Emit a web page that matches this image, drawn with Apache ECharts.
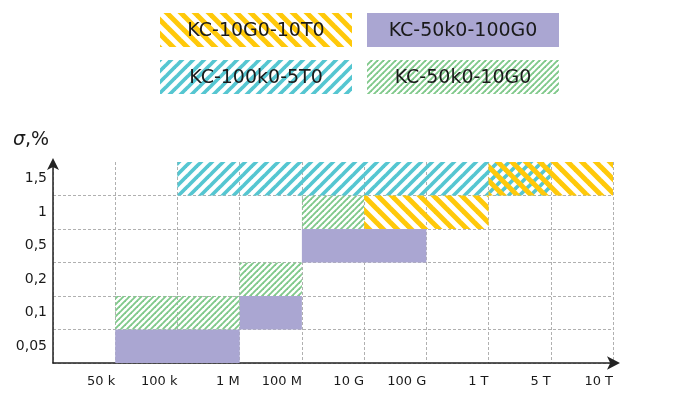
<!DOCTYPE html>
<html>
<head>
<meta charset="utf-8">
<script src="https://cdn.jsdelivr.net/npm/echarts@6/dist/echarts.min.js"></script>
<style>
html,body{margin:0;padding:0;background:#fff;}
#chart{width:687px;height:397px;}
</style>
</head>
<body>
<div id="chart"></div>
<script>
// Boundary labels of the x axis (index 0 is the origin)
const xLabels = ['', '50 k', '100 k', '1 M', '100 M', '10 G', '100 G', '1 T', '5 T', '10 T'];
// Row labels of the y axis (σ, %)
const yLabels = ['0,05', '0,1', '0,2', '0,5', '1', '1,5'];

// Ranges: [from, to, row]
const seriesNames = ['KC-50k0-100G0', 'KC-50k0-10G0', 'KC-100k0-5T0', 'KC-10G0-10T0'];
const purpleRanges = [['50 k', '1 M', '0,05'], ['1 M', '100 M', '0,1'], ['100 M', '100 G', '0,5']];
const greenRanges  = [['50 k', '1 M', '0,1'], ['1 M', '100 M', '0,2'], ['100 M', '10 G', '1']];
const cyanRanges   = [['100 k', '5 T', '1,5']];
const yellowRanges = [['10 G', '1 T', '1'], ['1 T', '10 T', '1,5']];
const legendOrder = ['KC-10G0-10T0', 'KC-50k0-100G0', 'KC-100k0-5T0', 'KC-50k0-10G0'];

function stripes(color, p, w, dir) {
  const c = document.createElement('canvas');
  c.width = p; c.height = p;
  const ctx = c.getContext('2d');
  ctx.strokeStyle = color;
  ctx.lineWidth = w;
  ctx.lineCap = 'square';
  for (let k = -1; k <= 1; k++) {
    const x = k * p;
    ctx.beginPath();
    if (dir === '/') { ctx.moveTo(x - 1, p + 1); ctx.lineTo(x + p + 1, -1); }
    else { ctx.moveTo(x - 1, -1); ctx.lineTo(x + p + 1, p + 1); }
    ctx.stroke();
  }
  return { image: c, repeat: 'repeat' };
}

const fills = {
  'KC-50k0-100G0': '#aaa6d2',
  'KC-50k0-10G0': stripes('#80c98b', 6, 1.9, '/'),
  'KC-100k0-5T0': stripes('#55c6d1', 11, 3.7, '/'),
  'KC-10G0-10T0': stripes('#ffc90a', 14, 5, '\\')
};
const rangesByName = {
  'KC-50k0-100G0': purpleRanges,
  'KC-50k0-10G0': greenRanges,
  'KC-100k0-5T0': cyanRanges,
  'KC-10G0-10T0': yellowRanges
};

function toData(r) {
  return r.map(d => [xLabels.indexOf(d[0]), xLabels.indexOf(d[1]), yLabels.indexOf(d[2])]);
}

const series = seriesNames.map(name => ({
  type: 'custom',
  name: name,
  encode: { x: [0, 1], y: 2 },
  data: toData(rangesByName[name]),
  z: 1,
  renderItem: function (params, api) {
    const y = api.value(2);
    const p0 = api.coord([api.value(0), y]);
    const p1 = api.coord([api.value(1), y]);
    const h = api.size([0, 1])[1];
    return {
      type: 'rect',
      shape: { x: p0[0], y: p0[1] - h / 2, width: p1[0] - p0[0], height: h },
      style: { fill: fills[name] }
    };
  }
}));

const font = 'DejaVu Sans';
const legendGraphics = legendOrder.map((name, i) => {
  const col = i % 2, row = Math.floor(i / 2);
  const x = 160 + col * 207, y = 13 + row * 47, w = 192, h = 34;
  return {
    type: 'group',
    children: [
      { type: 'rect', shape: { x: x, y: y, width: w, height: h }, style: { fill: fills[name] } },
      { type: 'text', x: x + w / 2, y: y + h / 2 + 1,
        style: { text: name, fontSize: 19, fontFamily: font, fill: '#1a1a1a', align: 'center', verticalAlign: 'middle' } }
    ]
  };
});

const chart = echarts.init(document.getElementById('chart'), null, { renderer: 'canvas' });
chart.setOption({
  animation: false,
  grid: { left: 53, right: 74, top: 162, bottom: 34, containLabel: false },
  xAxis: {
    type: 'value', min: 0, max: xLabels.length - 1, interval: 1,
    axisLine: { show: true, lineStyle: { color: '#222', width: 1.5 }, symbol: ['none', 'arrow'], symbolSize: [10, 13], symbolOffset: [0, 7] },
    axisTick: { show: false },
    axisLabel: { formatter: v => xLabels[v] || '', align: 'right', margin: 12, fontSize: 13, fontFamily: font, color: '#1a1a1a' },
    splitLine: { show: true, lineStyle: { color: '#b0b0b0', type: [3, 2], width: 1 } }
  },
  yAxis: {
    type: 'category', data: yLabels,
    axisLine: { show: true, lineStyle: { color: '#222', width: 1.5 }, symbol: ['none', 'arrow'], symbolSize: [9, 12], symbolOffset: [0, 4] },
    axisTick: { show: false },
    axisLabel: { margin: 6, fontSize: 14, fontFamily: font, color: '#1a1a1a' },
    splitLine: { show: true, showMaxLine: false, lineStyle: { color: '#b0b0b0', type: [3, 2], width: 1 } }
  },
  graphic: legendGraphics.concat([
    { type: 'text', x: 13, y: 140,
      style: { text: '{i|σ},%', fontSize: 19, fontFamily: font, fill: '#1a1a1a', verticalAlign: 'middle',
        rich: { i: { fontStyle: 'italic', fontSize: 19, fontFamily: font } } } }
  ]),
  series: series
});
</script>
</body>
</html>
